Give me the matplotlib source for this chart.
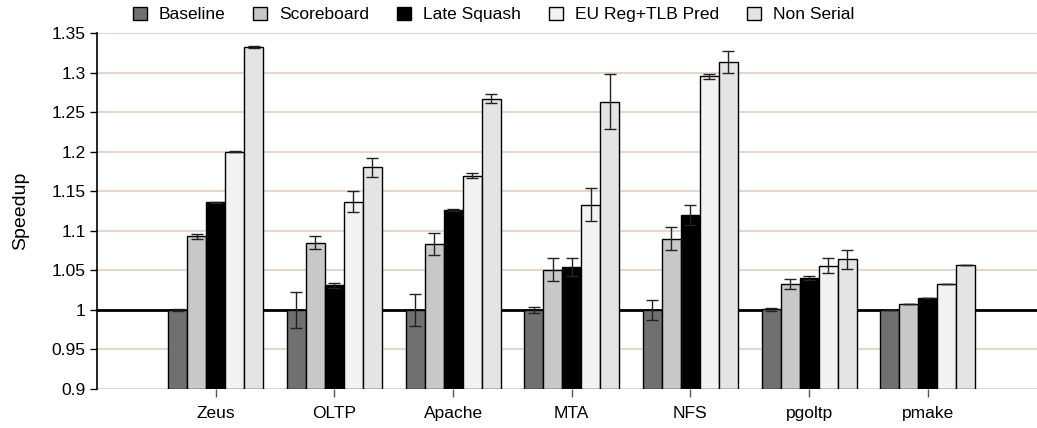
import matplotlib
matplotlib.use('Agg')
import matplotlib.pyplot as plt
import numpy as np

plt.rcParams['font.family'] = ['Liberation Sans', 'DejaVu Sans']

# Benchmarks and speedups for each configuration
benchmarks = ['Zeus', 'OLTP', 'Apache', 'MTA', 'NFS', 'pgoltp', 'pmake']
series_names = ['Baseline', 'Scoreboard', 'Late Squash', 'EU Reg+TLB Pred', 'Non Serial']

baseline = [1.000, 1.000, 1.000, 1.000, 1.000, 1.001, 1.000]
scoreboard = [1.093, 1.085, 1.083, 1.051, 1.090, 1.0325, 1.008]
late_squash = [1.136, 1.031, 1.1265, 1.054, 1.120, 1.040, 1.015]
eu_reg_tlb = [1.200, 1.137, 1.1695, 1.133, 1.295, 1.056, 1.033]
non_serial = [1.332, 1.180, 1.267, 1.263, 1.313, 1.064, 1.057]

baseline_err = [0.001, 0.0225, 0.020, 0.0036, 0.013, 0.002, 0.0]
scoreboard_err = [0.003, 0.0078, 0.0137, 0.0143, 0.0143, 0.006, 0.0]
late_squash_err = [0.001, 0.003, 0.001, 0.011, 0.0127, 0.0025, 0.0]
eu_reg_tlb_err = [0.001, 0.0137, 0.003, 0.0205, 0.003, 0.009, 0.0]
non_serial_err = [0.001, 0.0124, 0.0055, 0.035, 0.014, 0.012, 0.0]

values = [baseline, scoreboard, late_squash, eu_reg_tlb, non_serial]
errors = [baseline_err, scoreboard_err, late_squash_err, eu_reg_tlb_err, non_serial_err]
colors = ['#707070', '#c8c8c8', '#000000', '#f2f2f2', '#e4e4e4']

fig = plt.figure(figsize=(10.37, 4.28), dpi=100)
ax = fig.add_axes([0.0935, 0.091, 0.9065, 0.832])

x = np.arange(1, len(benchmarks) + 1)
width = 0.16
bottom = 0.9

for i, (vals, errs, col, name) in enumerate(zip(values, errors, colors, series_names)):
    pos = x + (i - 2) * width
    heights = np.array(vals) - bottom
    ax.bar(pos, heights, width, bottom=bottom, color=col, edgecolor='black',
           linewidth=1.0, label=name, zorder=3)
    ax.errorbar(pos, vals, yerr=errs, fmt='none', ecolor='#222222',
                elinewidth=1.0, capsize=4, capthick=1.0, zorder=4)

# Reference line at speedup 1
ax.axhline(1.0, color='black', linewidth=2.0, zorder=2)

ax.set_ylim(0.9, 1.35)
ax.set_xlim(0, 7.92)
ax.set_yticks(np.arange(0.9, 1.351, 0.05))
ax.set_yticklabels(['0.9', '0.95', '1', '1.05', '1.1', '1.15', '1.2', '1.25', '1.3', '1.35'])
ax.set_xticks(x)
ax.set_xticklabels(benchmarks)
ax.yaxis.grid(True, color='#e6d6cc', linewidth=1.5, zorder=0)
ax.set_axisbelow(True)

for side in ['top', 'right', 'bottom']:
    ax.spines[side].set_visible(False)
ax.spines['left'].set_linewidth(1.2)
ax.tick_params(axis='y', direction='out', length=5, width=1.0, labelsize=12.5, pad=3)
ax.tick_params(axis='x', direction='out', length=6, width=1.0, color='#555555',
               labelsize=12.5, pad=6)

ax.set_ylabel('Speedup', fontsize=14, labelpad=16)

fig.legend(loc='center', bbox_to_anchor=(0.476, 0.966), ncol=5, frameon=False,
           fontsize=12.5, handlelength=0.8, handleheight=0.8, handletextpad=0.7,
           columnspacing=1.6)

fig.savefig('out.png', dpi=100)
